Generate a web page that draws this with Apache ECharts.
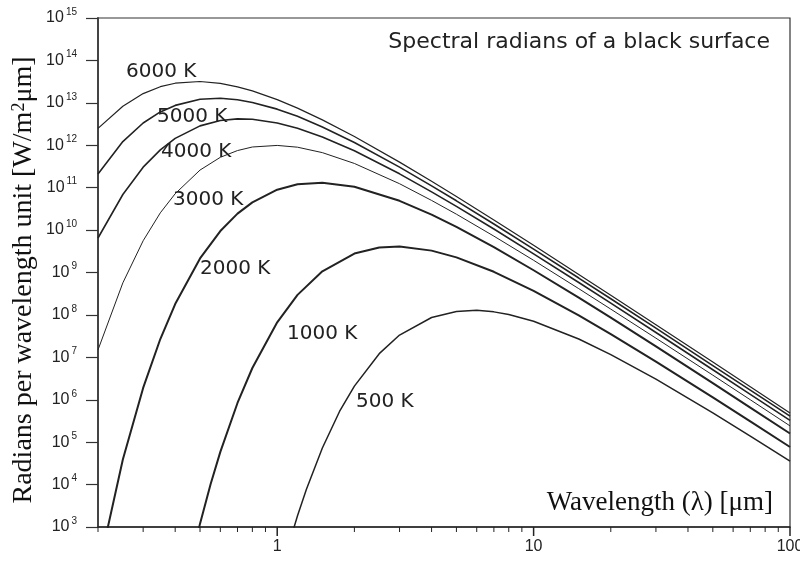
<!DOCTYPE html>
<html>
<head>
<meta charset="utf-8">
<title>Spectral radiance of a black surface</title>
<script src="https://cdn.jsdelivr.net/npm/echarts@6/dist/echarts.min.js"></script>
<style>
  html, body { margin: 0; padding: 0; background: #ffffff; }
  #chart { width: 800px; height: 565px; }
</style>
</head>
<body>
<div id="chart"></div>
<script>
// Wavelengths (µm) for the hotter curves
const lambdaHot = [0.2, 0.25, 0.3, 0.35, 0.4, 0.5, 0.6, 0.7, 0.8, 1, 1.2, 1.5, 2, 3, 4, 5, 7, 10, 15, 20, 30, 50, 70, 100];
const radiance6000 = [2.5e12, 8.3e12, 1.65e13, 2.4e13, 2.9e13, 3.18e13, 2.87e13, 2.38e13, 1.91e13, 1.19e13, 7.5e12, 3.97e12, 1.61e12, 4.0e11, 1.42e11, 6.2e10, 1.73e10, 4.4e9, 9.0e8, 2.92e8, 5.9e7, 7.8e6, 2.03e6, 4.9e5];
const radiance5000 = [2.1e11, 1.22e12, 3.35e12, 6.1e12, 8.7e12, 1.21e13, 1.28e13, 1.18e13, 1.02e13, 7.1e12, 4.8e12, 2.7e12, 1.16e12, 3.05e11, 1.10e11, 4.9e10, 1.39e10, 3.57e9, 7.4e8, 2.41e8, 4.87e7, 6.4e6, 1.69e6, 4.1e5];
const radiance4000 = [6.5e9, 6.9e10, 3.04e11, 7.8e11, 1.45e12, 2.86e12, 3.83e12, 4.18e12, 4.1e12, 3.36e12, 2.51e12, 1.57e12, 7.4e11, 2.12e11, 7.98e10, 3.62e10, 1.06e10, 2.75e9, 5.8e8, 1.89e8, 3.85e7, 5.1e6, 1.34e6, 3.25e5];
const radiance3000 = [1.5e7, 5.7e8, 5.6e9, 2.55e10, 7.2e10, 2.6e11, 5.2e11, 7.5e11, 9.1e11, 9.9e11, 9.0e11, 6.7e11, 3.72e11, 1.24e11, 5.0e10, 2.37e10, 7.2e9, 1.94e9, 4.16e8, 1.37e8, 2.83e7, 3.8e6, 1.0e6, 2.42e5];

const lambda2000 = [0.2, 0.25, 0.3, 0.35, 0.4, 0.5, 0.6, 0.7, 0.8, 1, 1.2, 1.5, 2, 3, 4, 5, 7, 10, 15, 20, 30, 50, 70, 100];
const radiance2000 = [89, 3.9e4, 1.9e6, 2.7e7, 1.8e8, 2.15e9, 9.5e9, 2.44e10, 4.5e10, 8.95e10, 1.2e11, 1.31e11, 1.05e11, 4.9e10, 2.31e10, 1.19e10, 3.95e9, 1.13e9, 2.55e8, 8.6e7, 1.81e7, 2.46e6, 6.5e5, 1.6e5];

const lambda1000 = [0.45, 0.5, 0.55, 0.6, 0.7, 0.8, 1, 1.2, 1.5, 2, 2.5, 3, 4, 5, 7, 10, 15, 20, 30, 50, 70, 100];
const radiance1000 = [84, 1.2e3, 1.03e4, 5.9e4, 8.4e5, 5.6e6, 6.7e7, 2.97e8, 1.07e9, 2.8e9, 3.87e9, 4.08e9, 3.28e9, 2.27e9, 1.04e9, 3.7e8, 9.7e7, 3.53e7, 7.96e6, 1.14e6, 3.1e5, 7.7e4];

const lambda500 = [1.1, 1.2, 1.3, 1.5, 1.75, 2, 2.5, 3, 4, 5, 6, 7, 8, 10, 15, 20, 30, 50, 70, 100];
const radiance500 = [320, 1.84e3, 7.8e3, 7.3e4, 5.3e5, 2.1e6, 1.22e7, 3.35e7, 8.7e7, 1.21e8, 1.28e8, 1.18e8, 1.02e8, 7.1e7, 2.7e7, 1.16e7, 3.05e6, 4.9e5, 1.39e5, 3.57e4];

const curveNames = ['6000 K', '5000 K', '4000 K', '3000 K', '2000 K', '1000 K', '500 K'];

// Tick positions
const xMajorTicks = [1, 10, 100];
const xMinorTicks = [0.2, 0.3, 0.4, 0.5, 0.6, 0.7, 0.8, 0.9, 2, 3, 4, 5, 6, 7, 8, 9, 20, 30, 40, 50, 60, 70, 80, 90];
const yTicks = [1e3, 1e4, 1e5, 1e6, 1e7, 1e8, 1e9, 1e10, 1e11, 1e12, 1e13, 1e14, 1e15];

const INK = '#222222';
const SANS = 'DejaVu Sans';
const SERIF = 'Liberation Serif';
const Y_FLOOR = 1e3;

function pairs(xs, ys) { return xs.map((x, i) => [x, ys[i]]); }

const curves = [
  { name: curveNames[0], data: pairs(lambdaHot, radiance6000), width: 1.2 },
  { name: curveNames[1], data: pairs(lambdaHot, radiance5000), width: 1.6 },
  { name: curveNames[2], data: pairs(lambdaHot, radiance4000), width: 1.6 },
  { name: curveNames[3], data: pairs(lambdaHot, radiance3000), width: 1.0 },
  { name: curveNames[4], data: pairs(lambda2000, radiance2000), width: 2.0 },
  { name: curveNames[5], data: pairs(lambda1000, radiance1000), width: 2.0 },
  { name: curveNames[6], data: pairs(lambda500, radiance500), width: 1.5 }
];

// Where each temperature label sits (left edge, vertical centre)
const labelSpots = [[126, 72], [157, 117], [161, 152], [173, 200], [200, 269], [287, 334], [356, 402]];

const chart = echarts.init(document.getElementById('chart'), null, { renderer: 'canvas' });

const series = curves.map(c => ({
  name: c.name,
  type: 'line',
  data: c.data,
  showSymbol: false,
  symbol: 'none',
  clip: true,
  lineStyle: { color: INK, width: c.width },
  emphasis: { disabled: true },
  animation: false
}));

// Downward tick marks under the wavelength axis, placed through the axis scale
function tickSeries(values, len, width) {
  return {
    type: 'custom',
    clip: false,
    z: 10,
    animation: false,
    data: values.map(v => [v, Y_FLOOR]),
    renderItem: function (params, api) {
      const p = api.coord([api.value(0), api.value(1)]);
      return {
        type: 'line',
        shape: { x1: p[0], y1: p[1], x2: p[0], y2: p[1] + len },
        style: { stroke: INK, lineWidth: width }
      };
    }
  };
}
series.push(tickSeries(xMajorTicks, 9, 1.5));
series.push(tickSeries(xMinorTicks, 5, 1));

const graphics = labelSpots.map((pos, i) => ({
  type: 'text',
  x: pos[0],
  y: pos[1],
  silent: true,
  style: {
    text: curveNames[i],
    font: '20px "' + SANS + '"',
    fill: INK,
    align: 'left', textAlign: 'left',
    verticalAlign: 'middle', textVerticalAlign: 'middle'
  }
}));

graphics.push({
  type: 'text', x: 770, y: 42, silent: true,
  style: {
    text: 'Spectral radians of a black surface',
    font: '22px "' + SANS + '"', fill: INK,
    align: 'right', textAlign: 'right',
    verticalAlign: 'middle', textVerticalAlign: 'middle'
  }
});

graphics.push({
  type: 'text', x: 773, y: 503, silent: true,
  style: {
    text: 'Wavelength (\u03BB) [\u03BCm]',
    font: '27px "' + SERIF + '"', fill: '#111',
    align: 'right', textAlign: 'right',
    verticalAlign: 'middle', textVerticalAlign: 'middle'
  }
});

graphics.push({
  type: 'text', x: 24, y: 280, rotation: Math.PI / 2, silent: true,
  style: {
    text: 'Radians per wavelength unit [W/m{sup|2}\u03BCm]',
    font: '28px "' + SERIF + '"', fill: '#111',
    align: 'center', textAlign: 'center',
    verticalAlign: 'middle', textVerticalAlign: 'middle',
    rich: {
      sup: { fontSize: 18, fontFamily: SERIF, fill: '#111', color: '#111', verticalAlign: 'top' }
    }
  }
});

chart.setOption({
  animation: false,
  backgroundColor: '#ffffff',
  grid: {
    left: 98, right: 10, top: 18, bottom: 38,
    outerBoundsMode: 'none', containLabel: false,
    show: true, borderColor: '#333', borderWidth: 1.2, backgroundColor: 'transparent'
  },
  xAxis: {
    type: 'log', logBase: 10, min: 0.2, max: 100,
    splitLine: { show: false },
    minorTick: { show: false },
    axisLine: { show: true, onZero: false, lineStyle: { color: INK, width: 1.5 } },
    axisTick: { show: false },
    axisLabel: {
      margin: 12, color: INK, fontFamily: 'Liberation Sans', fontSize: 16,
      customValues: xMajorTicks,
      formatter: function (v) { return String(Math.round(v)); }
    }
  },
  yAxis: {
    type: 'log', logBase: 10, min: Y_FLOOR, max: 1.0001e15,
    axisLine: { show: true, onZero: false, lineStyle: { color: '#444', width: 2 } },
    axisTick: { show: true, inside: false, length: 12, customValues: yTicks, lineStyle: { color: '#333', width: 1.2 } },
    splitLine: { show: false },
    axisLabel: {
      margin: 21, color: INK,
      customValues: yTicks,
      formatter: function (v) {
        const e = Math.round(Math.log10(v));
        return '{b|10}{s|' + e + '}';
      },
      rich: {
        b: { fontFamily: 'Liberation Sans', fontSize: 16, color: INK, lineHeight: 22 },
        s: { fontFamily: 'Liberation Sans', fontSize: 10, color: INK, verticalAlign: 'top', padding: [0, 0, 0, 2] }
      }
    }
  },
  series: series,
  graphic: graphics
});
</script>
</body>
</html>
